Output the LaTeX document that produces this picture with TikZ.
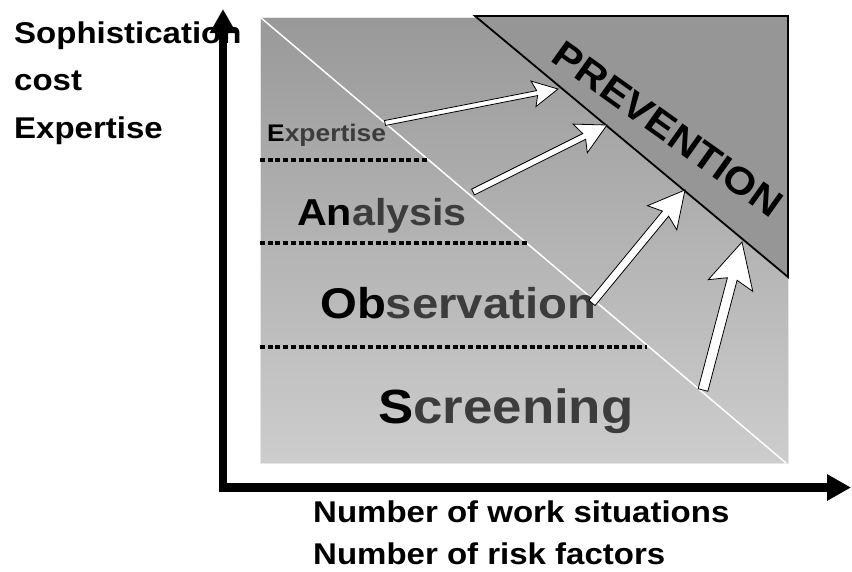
\documentclass[tikz,border=0pt]{standalone}
\usepackage{fontspec}
\setmainfont{Liberation Sans}[FakeStretch=1.1]
\usetikzlibrary{calc, arrows.meta}

\definecolor{bgtop}{HTML}{999999}
\definecolor{bgbottom}{HTML}{CDCDCD}
\definecolor{bgedge}{HTML}{E6E6E6}
\definecolor{prevfill}{HTML}{969696}
\definecolor{leveltext}{HTML}{3C3C3C}

\begin{document}
\begin{tikzpicture}[
    x=1pt, y=-1pt,
    axis/.style={line width=8.5pt, -{Triangle[length=24pt, width=25pt]}},
    axislabel/.style={anchor=base west, inner sep=0pt, font=\bfseries\fontsize{30}{36}\selectfont},
    level/.style={anchor=base west, inner sep=0pt, text=leveltext},
    divider/.style={line width=4pt, dash pattern=on 5pt off 2.7pt},
    fatarrow/.style={draw=black, fill=white, line width=0.8pt, line join=miter},
]
    \useasboundingbox (0,0) rectangle (852,571);

    % Background square
    \path[top color=bgtop, bottom color=bgbottom, draw=bgedge, line width=1pt] (260,17) rectangle (788,463);
    \draw[white, line width=1.5pt] (260,17) -- (786,463);

    % Prevention corner
    \draw[fill=prevfill, line width=1.8pt, line join=miter] (475,16) -- (788,16) -- (788,277) -- cycle;
    \node[font=\bfseries\fontsize{38}{44}\selectfont, inner sep=0pt, rotate=-35.5] (prev) at (668,129) {PREVENTION};

    % Level dividers
    \foreach \y/\x in {160/428, 243/527, 347/647} {
        \draw[divider] (260,\y) -- (\x,\y);
    }

    % Levels
    \node[level, font=\bfseries\fontsize{24}{28}\selectfont] (expertise) at (267,141) {\textcolor{black}{E}xpertise};
    \node[level, font=\bfseries\fontsize{37.5}{44}\selectfont] (analysis) at (297,225) {\textcolor{black}{An}alysis};
    \node[level, font=\bfseries\fontsize{43}{50}\selectfont] (observation) at (320,318) {\textcolor{black}{Ob}servation};
    \node[level, font=\bfseries\fontsize{48}{56}\selectfont] (screening) at (378,423) {\textcolor{black}{S}creening};

    % Arrows towards prevention
    \foreach \i/\sx/\sy/\tx/\ty/\sw/\hw/\hl in {1/385/123/558/89/2.5pt/13pt/25pt,
                                              2/473/192/607/125/3.2pt/16pt/30pt,
                                              3/592/303/685/190/4pt/19pt/36pt,
                                              4/703/390/742/242/5pt/23pt/45pt} {
        \coordinate (d\i) at (\sx,\sy);
        \coordinate (h\i) at (\tx,\ty);
        \coordinate (b\i) at ($(h\i)!\hl!(d\i)$);
        \coordinate (j\i) at ($(h\i)!0.85*\hl!(d\i)$);
        \draw[fatarrow] ($(d\i)!\sw!90:(h\i)$) -- ($(j\i)!\sw!-90:(d\i)$) -- ($(b\i)!\hw!-90:(d\i)$)
            -- (h\i) -- ($(b\i)!\hw!90:(d\i)$) -- ($(j\i)!\sw!90:(d\i)$) -- ($(d\i)!\sw!-90:(h\i)$) -- cycle;
    }

    % Axis labels
    \foreach \t/\y [count=\k] in {Sophistication/43, cost/90, Expertise/138} {
        \node[axislabel] (ylab\k) at (14,\y) {\t};
    }
    \node[axislabel] (xlab1) at (313,522) {Number of work situations};
    \node[axislabel] (xlab2) at (313,564) {Number of risk factors};

    % Axes
    \coordinate (origin) at (223,492);
    \coordinate (ytip) at (223,9);
    \coordinate (xstart) at (219,487.5);
    \coordinate (xtip) at (851,487.5);
    \draw[axis] (origin) -- (ytip);
    \draw[axis] (xstart) -- (xtip);
\end{tikzpicture}
\end{document}
